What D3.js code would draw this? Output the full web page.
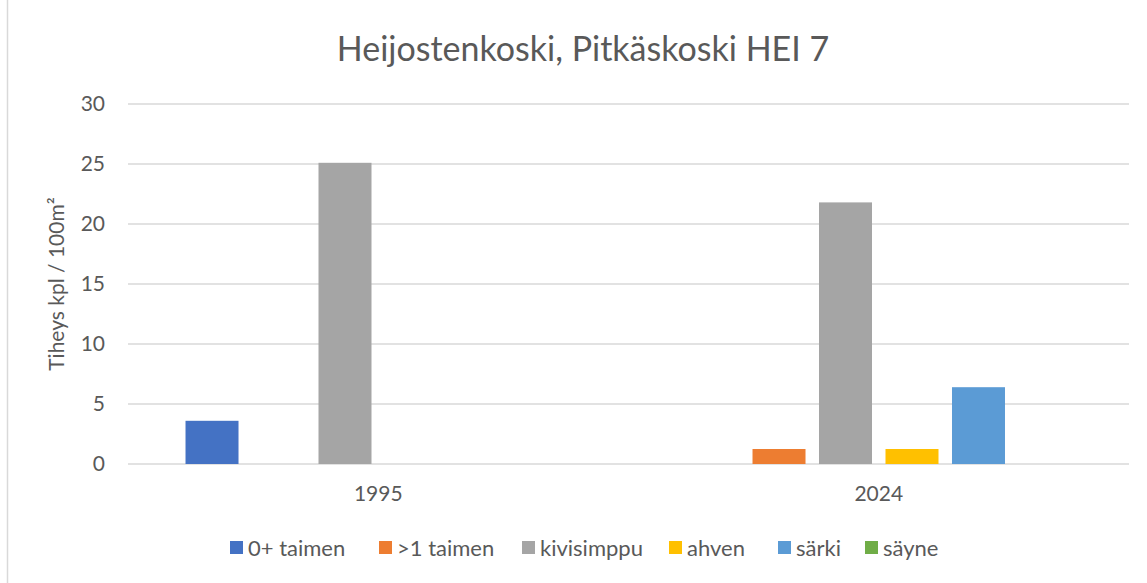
<!DOCTYPE html>
<html>
<head>
<meta charset="utf-8">
<script src="https://cdn.jsdelivr.net/npm/d3@7"></script>
<style>
  html, body { margin: 0; padding: 0; background: #fff; }
  svg { display: block; }
  text { font-family: Lato, "Open Sans", sans-serif; fill: #595959; }
</style>
</head>
<body>
<svg id="chart" width="1147" height="583"></svg>
<script>
const titleText = "Heijostenkoski, Pitkäskoski HEI 7";
const yTitle = "Tiheys kpl / 100m²";
const years = ["1995", "2024"];
const species = ["0+ taimen", ">1 taimen", "kivisimppu", "ahven", "särki", "säyne"];
const colors = ["#4472C4", "#ED7D31", "#A5A5A5", "#FFC000", "#5B9BD5", "#70AD47"];
const values1995 = [3.6, 0, 25.1, 0, 0, 0];
const values2024 = [0, 1.25, 21.8, 1.25, 6.4, 0];
const yTicks = [0, 5, 10, 15, 20, 25, 30];

const valuesByYear = [values1995, values2024];
const svg = d3.select("#chart");
const W = 1147, H = 583;
const plot = { left: 128, right: 1129, top: 104, bottom: 464 };

// outer border
svg.append("rect").attr("x", 7.5).attr("y", -1).attr("width", W + 10).attr("height", H + 10)
  .attr("fill", "none").attr("stroke", "#d9d9d9").attr("stroke-width", 1.5);

const x0 = d3.scaleBand().domain(years).range([plot.left, plot.right]).padding(0);
const x1 = d3.scaleBand().domain(species).range([0, x0.bandwidth()])
  .paddingInner(0.203).paddingOuter(0.865);
const y = d3.scaleLinear().domain([0, 30]).range([plot.bottom, plot.top]);

// gridlines
svg.append("g").selectAll("line").data(yTicks).join("line")
  .attr("x1", plot.left).attr("x2", plot.right)
  .attr("y1", d => y(d)).attr("y2", d => y(d))
  .attr("stroke", "#d9d9d9").attr("stroke-width", 1.5);

// y tick labels
svg.append("g").selectAll("text").data(yTicks).join("text")
  .attr("x", 105).attr("y", d => y(d)).attr("dy", "0.35em")
  .attr("text-anchor", "end").attr("font-size", 21).text(d => d);

// bars
const groups = svg.append("g").selectAll("g").data(years).join("g")
  .attr("transform", d => `translate(${x0(d)},0)`);
groups.selectAll("rect")
  .data((yr, i) => species.map((s, j) => ({ s, v: valuesByYear[i][j], c: colors[j] })))
  .join("rect")
  .attr("x", d => x1(d.s)).attr("width", x1.bandwidth())
  .attr("y", d => y(d.v)).attr("height", d => y(0) - y(d.v))
  .attr("fill", d => d.c);

// x labels
svg.append("g").selectAll("text").data(years).join("text")
  .attr("x", d => x0(d) + x0.bandwidth() / 2).attr("y", 501)
  .attr("text-anchor", "middle").attr("font-size", 21).text(d => d);

// title
svg.append("text").attr("x", 583).attr("y", 61).attr("text-anchor", "middle")
  .attr("font-size", 34).text(titleText);

// y axis title
svg.append("text").attr("transform", `translate(64,${(plot.top + plot.bottom) / 2}) rotate(-90)`)
  .attr("text-anchor", "middle").attr("font-size", 21).text(yTitle);

// legend
const legendX = [230, 379, 522, 669, 778, 865];
const lg = svg.append("g").selectAll("g").data(species).join("g")
  .attr("transform", (d, i) => `translate(${legendX[i]},541)`);
lg.append("rect").attr("width", 13).attr("height", 13).attr("fill", (d, i) => colors[i]);
lg.append("text").attr("x", 18).attr("y", 7).attr("dy", "0.35em").attr("font-size", 22).text(d => d);
</script>
</body>
</html>
